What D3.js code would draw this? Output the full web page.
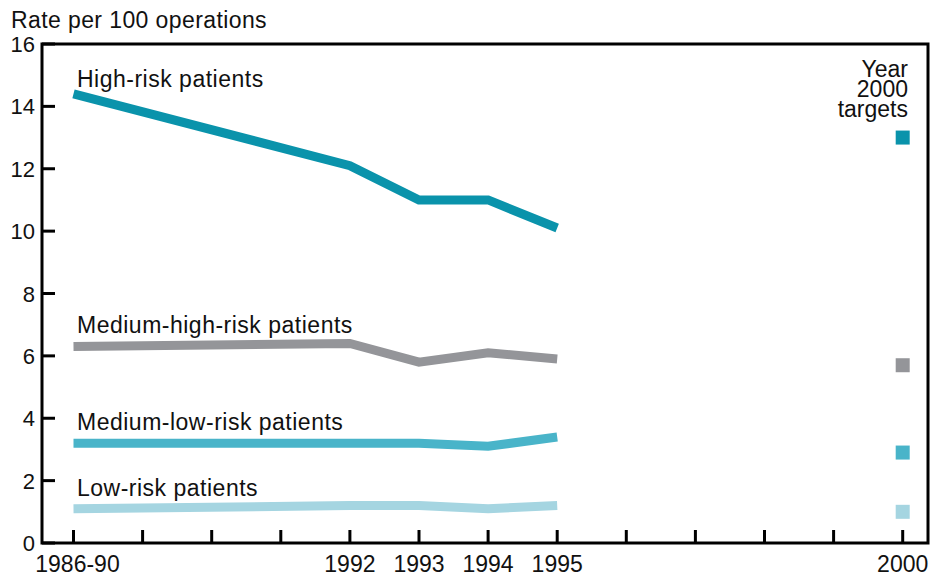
<!DOCTYPE html>
<html>
<head>
<meta charset="utf-8">
<script src="https://cdn.jsdelivr.net/npm/d3@7"></script>
<style>
  body { margin: 0; background: #fff; }
  text { font-family: "Liberation Sans", Arial, Helvetica, sans-serif; fill: #111; }
</style>
</head>
<body>
<div class="chart"></div>
<script>
var w = 930;
var h = 575;

// x positions: 1986-90 is plotted at slot 1988, then one slot per year up to 2000
var years = [1988, 1992, 1993, 1994, 1995];
var tickYears = d3.range(1988, 2001);
var tickLabels = {1988: "1986-90", 1992: "1992", 1993: "1993", 1994: "1994", 1995: "1995", 2000: "2000"};
var targetYear = 2000;

var seriesNames = ["High-risk patients", "Medium-high-risk patients", "Medium-low-risk patients", "Low-risk patients"];
var highRisk = [14.4, 12.1, 11.0, 11.0, 10.1];
var medHighRisk = [6.3, 6.4, 5.8, 6.1, 5.9];
var medLowRisk = [3.2, 3.2, 3.2, 3.1, 3.4];
var lowRisk = [1.1, 1.2, 1.2, 1.1, 1.2];
var targets = [13.0, 5.7, 2.9, 1.0];
var colors = ["#0a93ab", "#949599", "#49b4c9", "#a5d5e1"];
var yTicks = [0, 2, 4, 6, 8, 10, 12, 14, 16];

var allSeries = [highRisk, medHighRisk, medLowRisk, lowRisk];

var m = {left: 42, right: 2, top: 44, bottom: 32};
var fs = 23;

var svg = d3.select('.chart')
            .append("svg")
            .attr("width", w)
            .attr("height", h);

var x = d3.scaleLinear().domain([1988, 2000]).range([73.5, 902.7]);
var y = d3.scaleLinear().domain([0, 16]).range([h - m.bottom, m.top]);

// frame
svg.append("rect")
   .attr("x", m.left)
   .attr("y", m.top)
   .attr("width", w - m.right - m.left)
   .attr("height", h - m.bottom - m.top)
   .attr("fill", "none")
   .attr("stroke", "#000")
   .attr("stroke-width", 3);

// y ticks + labels
svg.selectAll(".ytick")
   .data(yTicks)
   .enter()
   .append("line")
   .attr("x1", m.left)
   .attr("x2", m.left + 13)
   .attr("y1", function (d) { return y(d); })
   .attr("y2", function (d) { return y(d); })
   .attr("stroke", "#000")
   .attr("stroke-width", 3);

svg.selectAll(".ylab")
   .data(yTicks)
   .enter()
   .append("text")
   .attr("x", 35)
   .attr("y", function (d) { return y(d) + 8; })
   .attr("text-anchor", "end")
   .attr("font-size", fs - 1)
   .text(function (d) { return d; });

// x ticks + labels
svg.selectAll(".xtick")
   .data(tickYears)
   .enter()
   .append("line")
   .attr("x1", function (d) { return x(d); })
   .attr("x2", function (d) { return x(d); })
   .attr("y1", y(0))
   .attr("y2", y(0) - 13)
   .attr("stroke", "#000")
   .attr("stroke-width", 3);

svg.selectAll(".xlab")
   .data(tickYears.filter(function (d) { return tickLabels[d]; }))
   .enter()
   .append("text")
   .attr("x", function (d) { return x(d) + (d == 1988 ? 4 : 0); })
   .attr("y", 572)
   .attr("text-anchor", "middle")
   .attr("font-size", fs)
   .text(function (d) { return tickLabels[d]; });

svg.append("text")
   .attr("x", 11)
   .attr("y", 28)
   .attr("font-size", fs)
   .attr("letter-spacing", 0.4)
   .text("Rate per 100 operations");

// lines
var line = d3.line()
             .x(function (d, i) { return x(years[i]); })
             .y(function (d) { return y(d); });

svg.selectAll(".series")
   .data(allSeries)
   .enter()
   .append("path")
   .attr("d", line)
   .attr("fill", "none")
   .attr("stroke", function (d, i) { return colors[i]; })
   .attr("stroke-width", 9)
   .attr("stroke-linejoin", "miter");

// series labels sit just above the start of each line
var labelOffset = [7, 13.5, 13, 12.7];
svg.selectAll(".slab")
   .data(seriesNames)
   .enter()
   .append("text")
   .attr("x", 77)
   .attr("y", function (d, i) { return y(allSeries[i][0]) - labelOffset[i]; })
   .attr("font-size", fs)
   .attr("letter-spacing", 0.5)
   .text(function (d) { return d; });

// year 2000 targets
var sq = 14;
svg.selectAll(".target")
   .data(targets)
   .enter()
   .append("rect")
   .attr("x", x(targetYear) - sq / 2)
   .attr("y", function (d) { return y(d) - sq / 2; })
   .attr("width", sq)
   .attr("height", sq)
   .attr("fill", function (d, i) { return colors[i]; });

var tLines = ["Year", "2000", "targets"];
svg.selectAll(".tlab")
   .data(tLines)
   .enter()
   .append("text")
   .attr("x", 908)
   .attr("y", function (d, i) { return 77 + i * 20; })
   .attr("text-anchor", "end")
   .attr("font-size", fs)
   .text(function (d) { return d; });
</script>
</body>
</html>
